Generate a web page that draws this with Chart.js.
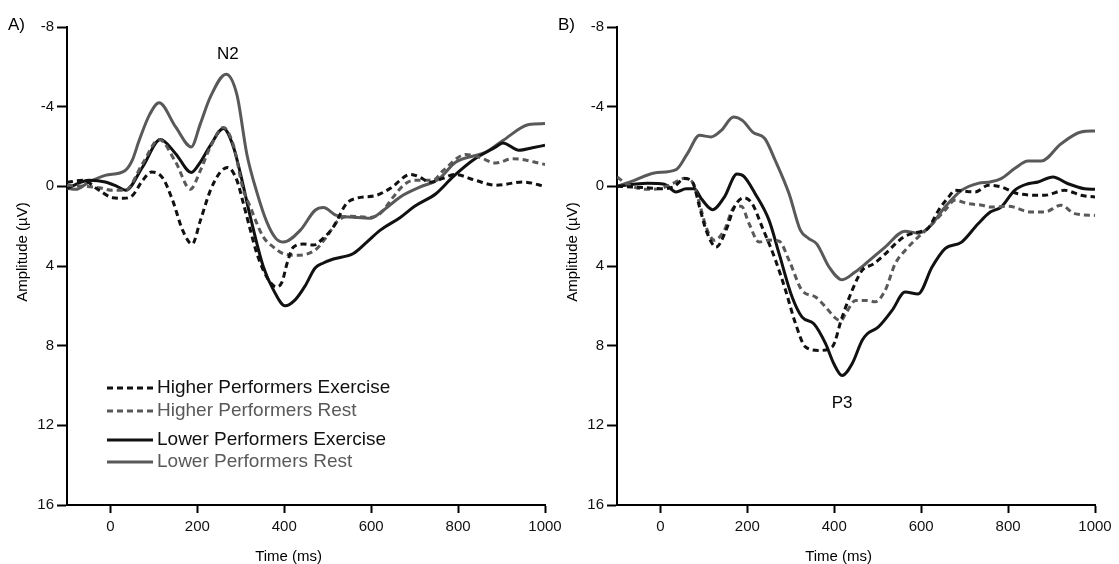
<!DOCTYPE html>
<html>
<head>
<meta charset="utf-8">
<script src="https://cdn.jsdelivr.net/npm/chart.js@4"></script>
<style>
  html, body { margin: 0; padding: 0; background: #fff; }
  body { width: 1119px; height: 564px; position: relative; overflow: hidden; }
  canvas { position: absolute; top: 0; }
  #cA { left: 0; }
  #cB { left: 550px; }
</style>
</head>
<body>
<canvas id="cA" width="580" height="564"></canvas>
<canvas id="cB" width="569" height="564"></canvas>
<script>
// ==================== ERP waveforms: higher vs lower performers ====================

// --- axis ticks ---
const X_TICKS = [0, 200, 400, 600, 800, 1000];
const Y_TICKS = [-8, -4, 0, 4, 8, 12, 16];

// --- Panel A: [time (ms), amplitude (µV)] ---
const aHigherExercise = [[-100,-0.2],[-64,-0.3],[-26,0.2],[5,0.57],[30,0.6],[51,0.45],[74,-0.3],[95,-0.72],[120,-0.43],[143,0.7],[166,2.2],[188,2.9],[207,1.71],[230,0.2],[253,-0.72],[270,-0.95],[291,-0.3],[306,0.87],[322,2.2],[337,3.38],[360,4.56],[382,5.05],[395,4.8],[406,3.9],[421,3.05],[444,2.9],[467,2.95],[490,2.6],[513,2.04],[543,0.87],[566,0.6],[612,0.45],[644,0.1],[691,-0.6],[713,-0.45],[735,-0.2],[765,-0.4],[792,-0.6],[840,-0.3],[887,-0.05],[949,-0.22],[1000,0]];
const aHigherRest = [[-100,-0.05],[-60,0],[-26,0.07],[5,0.2],[34,0.2],[74,-1.14],[112,-2.35],[150,-1.22],[184,0.15],[207,-0.8],[230,-1.98],[260,-2.95],[283,-2.06],[306,0.2],[322,1.04],[337,1.87],[352,2.55],[375,3.05],[398,3.38],[429,3.46],[471,3.2],[497,2.55],[524,1.71],[552,1.5],[598,1.56],[621,1.36],[651,0.53],[674,-0.05],[697,-0.3],[742,-0.3],[766,-0.8],[818,-1.6],[848,-1.47],[887,-1.17],[926,-1.39],[1000,-1.1]];
const aLowerExercise = [[-100,0.1],[-49,-0.3],[-12,-0.22],[15,0],[35,0.2],[74,-0.97],[115,-2.35],[150,-1.64],[186,-0.7],[207,-1.22],[230,-2.06],[260,-2.9],[283,-1.98],[299,-0.65],[322,1.54],[352,4.05],[375,5.2],[402,6.0],[425,5.7],[448,5.0],[471,4.1],[490,3.85],[513,3.65],[559,3.37],[590,2.8],[621,2.2],[667,1.56],[700,1.0],[749,0.37],[788,-0.47],[834,-1.31],[887,-1.98],[903,-2.18],[940,-1.81],[971,-1.94],[1000,-2.06]];
const aLowerRest = [[-100,0.1],[-80,0.15],[-49,-0.22],[-12,-0.55],[34,-0.8],[50,-1.3],[66,-2.3],[90,-3.6],[112,-4.2],[150,-2.98],[186,-1.98],[207,-3.15],[230,-4.49],[266,-5.63],[291,-4.6],[314,-1.6],[337,0.3],[360,1.8],[380,2.6],[398,2.8],[437,2.2],[471,1.2],[490,1.06],[520,1.46],[559,1.55],[598,1.6],[628,1.2],[667,0.53],[713,0.03],[754,-0.34],[795,-1.22],[864,-1.72],[903,-2.3],[963,-3.1],[1000,-3.15]];

// --- Panel B ---
const bHigherExercise = [[-100,0],[-30,0.07],[0,0.12],[32,0],[55,-0.39],[74,-0.2],[90,1.04],[105,2.2],[128,3.05],[151,2.2],[170,1.04],[192,0.58],[211,0.87],[234,2.04],[265,3.72],[288,5.23],[311,6.9],[334,8.07],[365,8.24],[395,8.07],[418,6.57],[441,5.23],[464,4.22],[490,3.9],[517,3.4],[545,2.8],[563,2.5],[593,2.3],[616,2.1],[640,1.2],[663,0.54],[678,0.2],[724,0.28],[755,-0.05],[784,0.03],[823,0.37],[884,0.45],[930,0.2],[968,0.45],[1000,0.54]];
const bHigherRest = [[-100,-0.47],[-76,-0.1],[-30,0.15],[1,0.1],[27,-0.13],[55,-0.4],[74,-0.2],[90,0.87],[105,2.04],[124,2.71],[147,2.2],[170,1.04],[186,1.0],[204,1.88],[227,2.8],[250,2.7],[273,2.75],[296,3.72],[326,5.23],[357,5.56],[380,6.06],[402,6.6],[415,6.75],[426,6.4],[449,5.73],[476,5.73],[494,5.8],[517,5.23],[540,3.89],[563,3.22],[593,2.55],[616,2.1],[655,1.2],[678,0.7],[708,0.87],[740,0.95],[759,1.04],[800,1.0],[853,1.29],[884,1.29],[922,0.95],[953,1.37],[1000,1.46]];
const bLowerExercise = [[-100,0],[-30,-0.15],[9,-0.1],[36,0.28],[59,0.12],[78,0.12],[94,0.62],[120,1.17],[147,0.54],[176,-0.62],[192,-0.5],[218,0.37],[250,1.71],[273,3.38],[303,5.56],[326,6.57],[353,6.9],[380,7.9],[399,8.91],[418,9.5],[441,8.91],[464,7.74],[476,7.4],[501,7.07],[533,6.23],[563,5.31],[593,5.4],[625,4.05],[655,3.13],[693,2.8],[731,1.88],[759,1.29],[784,1.04],[815,0.2],[846,-0.13],[869,-0.22],[903,-0.47],[938,-0.13],[976,0.12],[1000,0.15]];
const bLowerRest = [[-100,0],[-60,-0.3],[-14,-0.67],[36,-0.84],[62,-1.64],[90,-2.56],[116,-2.48],[140,-2.81],[168,-3.48],[189,-3.3],[213,-2.71],[240,-2.4],[264,-1.31],[296,0.37],[322,2.2],[340,2.6],[360,2.9],[388,4.05],[418,4.69],[448,4.3],[474,3.85],[517,3.05],[563,2.25],[593,2.35],[616,2.1],[655,1.04],[693,0.2],[731,-0.15],[759,-0.22],[784,-0.39],[815,-0.89],[846,-1.27],[876,-1.27],[922,-2.14],[968,-2.73],[1000,-2.78]];

const LABELS = ['Higher Performers Exercise', 'Higher Performers Rest', 'Lower Performers Exercise', 'Lower Performers Rest'];

const FONT = '"Liberation Sans", Arial, Helvetica, sans-serif';
const BLACK = '#111';
const GRAY = '#595959';
const DASH = [6, 4];

function series(label, pts, color, dash) {
  return {
    label,
    data: pts.map(([t, v]) => ({ x: t, y: v })),
    borderColor: color,
    borderWidth: 3,
    borderDash: dash,
    pointRadius: 0,
    fill: false,
    cubicInterpolationMode: 'monotone'
  };
}

// --- text overlays: panel letter, axis titles, peak name, legend ---
function extras(panel, peak, withLegend) {
  return {
    id: 'extras',
    afterDraw(chart) {
      const { ctx, chartArea: ca, scales: { x, y } } = chart;
      ctx.save();
      ctx.fillStyle = '#000';
      ctx.textBaseline = 'middle';

      ctx.font = `17px ${FONT}`;
      ctx.textAlign = 'left';
      ctx.fillText(panel, ca.left - 59, ca.top - 2);

      ctx.font = `15px ${FONT}`;
      ctx.textAlign = 'center';
      ctx.fillText('Time (ms)', x.getPixelForValue(410), ca.bottom + 52);
      ctx.save();
      ctx.translate(ca.left - 44, y.getPixelForValue(3.3));
      ctx.rotate(-Math.PI / 2);
      ctx.fillText('Amplitude (\u00b5V)', 0, 0);
      ctx.restore();

      ctx.font = `17px ${FONT}`;
      ctx.fillText(peak.text, x.getPixelForValue(peak.t), y.getPixelForValue(peak.v));

      if (withLegend) {
        const rows = [361, 384, 413, 435];
        ctx.font = `19px ${FONT}`;
        ctx.textAlign = 'left';
        chart.data.datasets.forEach((d, i) => {
          const yy = ca.top + rows[i];
          ctx.strokeStyle = d.borderColor;
          ctx.lineWidth = 3;
          ctx.setLineDash(d.borderDash || []);
          ctx.beginPath();
          ctx.moveTo(ca.left + 40, yy);
          ctx.lineTo(ca.left + 86, yy);
          ctx.stroke();
          ctx.fillStyle = d.borderColor;
          ctx.fillText(d.label, ca.left + 90, yy);
        });
      }
      ctx.restore();
    }
  };
}

function makeChart(id, sets, panel, peak, withLegend, rightPad) {
  return new Chart(document.getElementById(id), {
    type: 'line',
    data: {
      datasets: [
        series(LABELS[0], sets[0], BLACK, DASH),
        series(LABELS[1], sets[1], GRAY, DASH),
        series(LABELS[2], sets[2], BLACK, []),
        series(LABELS[3], sets[3], GRAY, [])
      ]
    },
    options: {
      responsive: false,
      animation: false,
      layout: { padding: { left: 0, top: 27, right: rightPad, bottom: 0 } },
      plugins: { legend: { display: false }, tooltip: { enabled: false } },
      scales: {
        x: {
          type: 'linear',
          min: -100,
          max: 1000,
          afterBuildTicks: s => { s.ticks = X_TICKS.map(v => ({ value: v })); },
          afterFit: s => { s.height = 59; },
          grid: { drawOnChartArea: false, drawTicks: true, tickLength: 8, tickWidth: 2, tickColor: '#000' },
          border: { display: true, color: '#000', width: 2 },
          ticks: { color: '#111', font: { family: FONT, size: 15 }, padding: 5, maxRotation: 0, callback: v => String(v) }
        },
        y: {
          reverse: true,
          min: -8,
          max: 16,
          afterBuildTicks: s => { s.ticks = Y_TICKS.map(v => ({ value: v })); },
          afterFit: s => { s.width = 67; },
          grid: { drawOnChartArea: false, drawTicks: true, tickLength: 10, tickWidth: 2, tickColor: '#000' },
          border: { display: true, color: '#000', width: 2 },
          ticks: { color: '#111', font: { family: FONT, size: 15 }, padding: 3, callback: v => String(v) }
        }
      }
    },
    plugins: [extras(panel, peak, withLegend)]
  });
}

makeChart('cA', [aHigherExercise, aHigherRest, aLowerExercise, aLowerRest], 'A)', { text: 'N2', t: 270, v: -6.63 }, true, 35);
makeChart('cB', [bHigherExercise, bHigherRest, bLowerExercise, bLowerRest], 'B)', { text: 'P3', t: 418, v: 10.9 }, false, 24);
</script>
</body>
</html>
